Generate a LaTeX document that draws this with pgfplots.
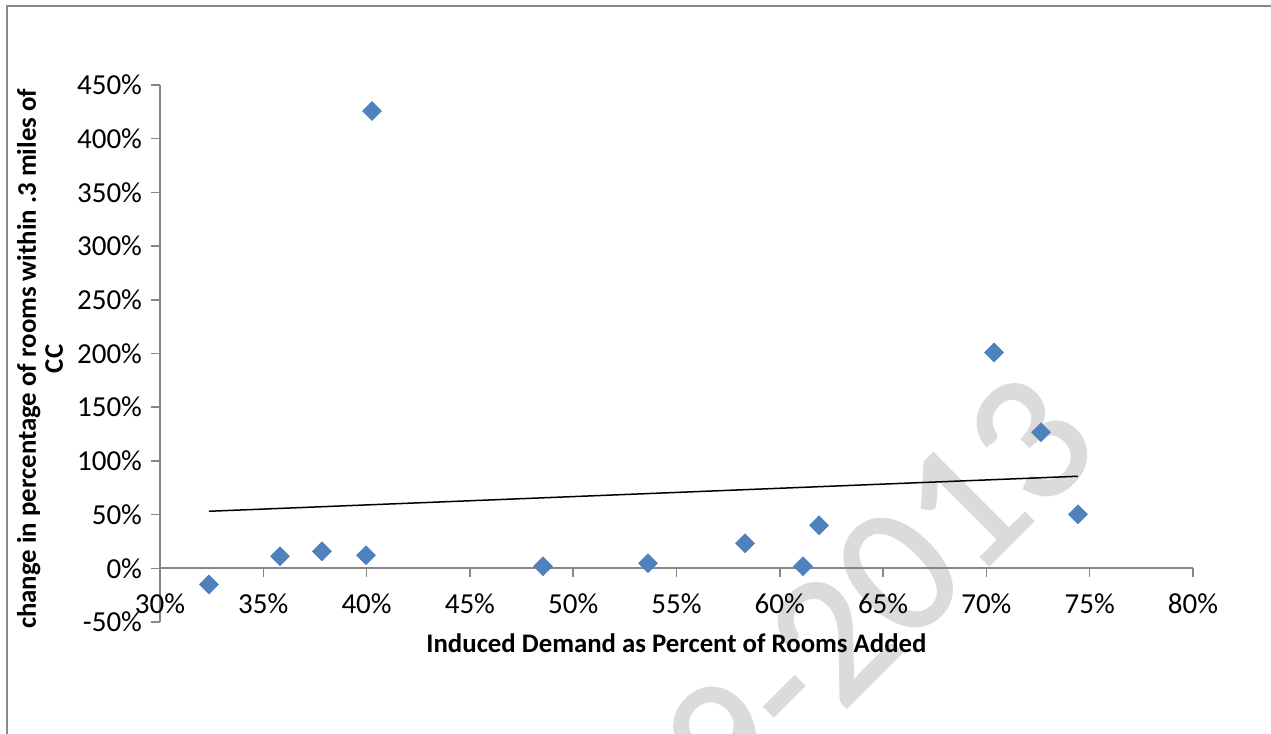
\documentclass[border=0pt]{standalone}
\usepackage{fontspec}
\setmainfont{Carlito}
\newfontfamily\wmfont[FakeBold=1.2]{Carlito}
\usepackage{pgfplots}
\pgfplotsset{compat=1.18}
\definecolor{excelblue}{HTML}{4F81BD}
\definecolor{axisgray}{HTML}{868686}
\definecolor{framegray}{HTML}{898989}
\begin{document}
\begin{tikzpicture}
\useasboundingbox (0,0) rectangle (635.5pt,367pt);
% watermark
\node[rotate=45, anchor=base east, text=black!14, inner sep=0pt,
      font=\wmfont\fontsize{92}{92}\selectfont] at (552.5pt,142.4pt) {19-2013};
% frame
\draw[framegray, line width=1pt] (3.5pt,-10pt) -- (3.5pt,364pt) -- (660pt,364pt);
\begin{axis}[
  at={(80pt,56pt)}, anchor=south west,
  scale only axis, width=516.5pt, height=268.5pt,
  xmin=30, xmax=80, ymin=-50, ymax=450,
  axis x line=middle, axis y line=left,
  hide obscured x ticks=false, hide obscured y ticks=false,
  axis line style={draw=axisgray, line width=1pt, -},
  xtick={30,35,...,80},
  xticklabels={30\%,35\%,40\%,45\%,50\%,55\%,60\%,65\%,70\%,75\%,80\%},
  ytick={-50,0,50,...,450},
  yticklabels={-50\%,0\%,50\%,100\%,150\%,200\%,250\%,300\%,350\%,400\%,450\%},
  tick align=outside,
  major tick length=4.5pt,
  tick style={axisgray, line width=0.75pt},
  ticklabel style={font=\fontsize{14.5}{16}\selectfont, text=black},
  xticklabel style={anchor=north, yshift=-4.5pt},
  yticklabel style={anchor=east, xshift=-1pt},
  clip=false,
]
\addplot[only marks, mark=square*, mark size=3.3pt,
  mark options={fill=excelblue, draw=excelblue, rotate=45}]
  coordinates {
  (32.37,-15) (35.81,11.2) (37.84,15.8) (39.97,12.1) (40.26,425.8)
  (48.54,1.9) (53.62,4.7) (58.32,23.3) (61.12,1.9) (61.9,40)
  (70.37,201) (72.64,126.7) (74.43,50.3)
  };
\addplot[black, line width=0.75pt, no marks] coordinates {(32.37,53.1) (74.43,85.7)};
\node[font=\bfseries\fontsize{13.4}{14}\selectfont, anchor=center]
  at (rel axis cs:0.5,-0.039) {Induced Demand as Percent of Rooms Added};
\node[font=\bfseries\fontsize{13.4}{13.5}\selectfont, rotate=90, align=center, anchor=center]
  at (rel axis cs:-0.116,0.49) {change in percentage of rooms within .3 miles of\\CC};
\end{axis}
\end{tikzpicture}
\end{document}
